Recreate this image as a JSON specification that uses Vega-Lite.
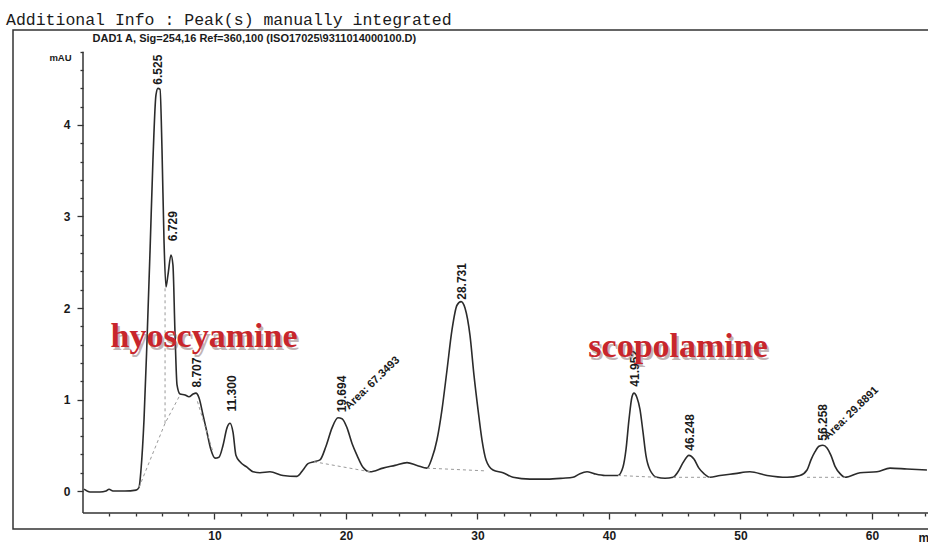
{
  "$schema": "https://vega.github.io/schema/vega-lite/v6.json",
  "width": 920,
  "height": 499,
  "autosize": {"type": "none"},
  "padding": {"left": 13, "top": 30, "right": 0, "bottom": 13},
  "background": "white",
  "title": {
    "text": "Additional Info : Peak(s) manually integrated",
    "anchor": "start",
    "frame": "group",
    "font": "Liberation Mono",
    "fontSize": 16.5,
    "fontWeight": "normal",
    "color": "#1a1a1a",
    "offset": -11,
    "dx": -7,
    "baseline": "alphabetic"
  },
  "config": {
    "view": {"stroke": "#333333", "strokeWidth": 1.5},
    "font": "Liberation Sans",
    "axis": {"domain": false, "grid": false, "tickColor": "#333333", "tickWidth": 1.3, "labelColor": "#1a1a1a", "labelFont": "Liberation Sans", "labelFontWeight": "bold", "labelFontSize": 12, "titleColor": "#1a1a1a", "titleFont": "Liberation Sans"}
  },
  "datasets": {
    "trace": [
      {"t": 0.08, "v": 0.02}, {"t": 0.53, "v": -0.01}, {"t": 1.29, "v": -0.01}, {"t": 1.75, "v": 0.0},
      {"t": 1.98, "v": 0.02}, {"t": 2.28, "v": 0.0}, {"t": 3.19, "v": 0.0}, {"t": 4.03, "v": 0.01},
      {"t": 4.26, "v": 0.04}, {"t": 4.41, "v": 0.23}, {"t": 4.64, "v": 0.78}, {"t": 4.87, "v": 1.65},
      {"t": 5.10, "v": 2.63}, {"t": 5.32, "v": 3.62}, {"t": 5.55, "v": 4.33}, {"t": 5.70, "v": 4.40},
      {"t": 5.86, "v": 4.39}, {"t": 6.01, "v": 3.72}, {"t": 6.16, "v": 2.74}, {"t": 6.31, "v": 2.23},
      {"t": 6.46, "v": 2.36}, {"t": 6.69, "v": 2.58}, {"t": 6.84, "v": 2.47}, {"t": 6.99, "v": 1.76},
      {"t": 7.15, "v": 1.16}, {"t": 7.38, "v": 1.06}, {"t": 7.76, "v": 1.05}, {"t": 8.06, "v": 1.03},
      {"t": 8.37, "v": 1.06}, {"t": 8.59, "v": 1.07}, {"t": 8.82, "v": 1.02}, {"t": 9.13, "v": 0.83},
      {"t": 9.43, "v": 0.64}, {"t": 9.73, "v": 0.45}, {"t": 10.04, "v": 0.36}, {"t": 10.34, "v": 0.37},
      {"t": 10.65, "v": 0.50}, {"t": 10.95, "v": 0.69}, {"t": 11.18, "v": 0.74}, {"t": 11.41, "v": 0.64},
      {"t": 11.63, "v": 0.39}, {"t": 11.94, "v": 0.32}, {"t": 12.47, "v": 0.26}, {"t": 12.93, "v": 0.21},
      {"t": 13.46, "v": 0.20}, {"t": 14.22, "v": 0.21}, {"t": 15.21, "v": 0.17}, {"t": 16.27, "v": 0.16},
      {"t": 16.73, "v": 0.23}, {"t": 17.11, "v": 0.30}, {"t": 17.57, "v": 0.32}, {"t": 18.02, "v": 0.34},
      {"t": 18.48, "v": 0.49}, {"t": 18.94, "v": 0.69}, {"t": 19.39, "v": 0.80}, {"t": 19.70, "v": 0.79},
      {"t": 20.08, "v": 0.69}, {"t": 20.46, "v": 0.52}, {"t": 20.84, "v": 0.39}, {"t": 21.29, "v": 0.26},
      {"t": 21.83, "v": 0.21}, {"t": 22.81, "v": 0.25}, {"t": 23.73, "v": 0.28}, {"t": 24.64, "v": 0.31},
      {"t": 25.40, "v": 0.28}, {"t": 26.16, "v": 0.25}, {"t": 26.54, "v": 0.36}, {"t": 26.92, "v": 0.56},
      {"t": 27.30, "v": 0.89}, {"t": 27.68, "v": 1.32}, {"t": 28.06, "v": 1.76}, {"t": 28.44, "v": 2.03},
      {"t": 28.75, "v": 2.07}, {"t": 29.05, "v": 2.00}, {"t": 29.43, "v": 1.70}, {"t": 29.73, "v": 1.27},
      {"t": 30.04, "v": 0.89}, {"t": 30.34, "v": 0.56}, {"t": 30.65, "v": 0.34}, {"t": 31.18, "v": 0.23},
      {"t": 31.94, "v": 0.20}, {"t": 32.70, "v": 0.15}, {"t": 33.99, "v": 0.13}, {"t": 35.29, "v": 0.13},
      {"t": 36.50, "v": 0.14}, {"t": 37.26, "v": 0.15}, {"t": 37.79, "v": 0.19}, {"t": 38.33, "v": 0.21},
      {"t": 38.86, "v": 0.19}, {"t": 39.70, "v": 0.17}, {"t": 40.68, "v": 0.17}, {"t": 41.06, "v": 0.26},
      {"t": 41.29, "v": 0.45}, {"t": 41.52, "v": 0.78}, {"t": 41.75, "v": 1.03}, {"t": 41.90, "v": 1.07},
      {"t": 42.13, "v": 1.02}, {"t": 42.36, "v": 0.89}, {"t": 42.59, "v": 0.64}, {"t": 42.81, "v": 0.39},
      {"t": 43.12, "v": 0.23}, {"t": 43.65, "v": 0.15}, {"t": 44.26, "v": 0.14}, {"t": 44.87, "v": 0.15},
      {"t": 45.25, "v": 0.21}, {"t": 45.63, "v": 0.31}, {"t": 46.08, "v": 0.39}, {"t": 46.46, "v": 0.35},
      {"t": 46.84, "v": 0.25}, {"t": 47.22, "v": 0.19}, {"t": 47.68, "v": 0.15}, {"t": 48.44, "v": 0.17},
      {"t": 49.58, "v": 0.19}, {"t": 50.72, "v": 0.21}, {"t": 52.02, "v": 0.17}, {"t": 53.54, "v": 0.15},
      {"t": 54.52, "v": 0.17}, {"t": 55.06, "v": 0.23}, {"t": 55.36, "v": 0.34}, {"t": 55.67, "v": 0.43},
      {"t": 55.97, "v": 0.49}, {"t": 56.27, "v": 0.50}, {"t": 56.58, "v": 0.47}, {"t": 56.88, "v": 0.39},
      {"t": 57.19, "v": 0.27}, {"t": 57.57, "v": 0.19}, {"t": 57.95, "v": 0.15}, {"t": 59.09, "v": 0.20},
      {"t": 60.38, "v": 0.21}, {"t": 61.37, "v": 0.25}, {"t": 62.66, "v": 0.24}, {"t": 64.18, "v": 0.23}
    ],
    "baselines": [
      {"seg": "A", "t": 4.26, "v": 0.04}, {"seg": "A", "t": 6.24, "v": 0.74}, {"seg": "A", "t": 7.38, "v": 1.05},
      {"seg": "B", "t": 6.24, "v": 0.74}, {"seg": "B", "t": 6.24, "v": 2.23},
      {"seg": "C", "t": 8.7, "v": 0.98}, {"seg": "C", "t": 9.9, "v": 0.42},
      {"seg": "D", "t": 17.57, "v": 0.32}, {"seg": "D", "t": 21.83, "v": 0.21},
      {"seg": "E", "t": 26.16, "v": 0.25}, {"seg": "E", "t": 30.65, "v": 0.22},
      {"seg": "F", "t": 40.68, "v": 0.17}, {"seg": "F", "t": 43.65, "v": 0.15},
      {"seg": "G", "t": 44.87, "v": 0.15}, {"seg": "G", "t": 47.68, "v": 0.15},
      {"seg": "H", "t": 55.06, "v": 0.15}, {"seg": "H", "t": 57.95, "v": 0.15}
    ],
    "axislines": [
      {"t1": 0, "v1": -0.24, "t2": 0, "v2": 4.8},
      {"t1": 0, "v1": -0.24, "t2": 64.7, "v2": -0.24}
    ],
    "peaks": [
      {"label": "6.525", "t": 5.70, "v": 4.44},
      {"label": "6.729", "t": 6.88, "v": 2.73},
      {"label": "8.707", "t": 8.67, "v": 1.13},
      {"label": "11.300", "t": 11.33, "v": 0.87},
      {"label": "19.694", "t": 19.70, "v": 0.86},
      {"label": "28.731", "t": 28.82, "v": 2.09},
      {"label": "41.952", "t": 41.98, "v": 1.14},
      {"label": "46.248", "t": 46.16, "v": 0.44},
      {"label": "56.258", "t": 56.27, "v": 0.55}
    ],
    "areas": [
      {"label": "Area: 67.3493", "t": 20.23, "v": 0.885},
      {"label": "Area: 29.8891", "t": 56.65, "v": 0.557}
    ],
    "names": [
      {"name": "hyoscyamine", "t": 9.2, "v": 1.57},
      {"name": "scopolamine", "t": 45.25, "v": 1.46}
    ]
  },
  "resolve": {"axis": {"x": "independent", "y": "independent"}},
  "layer": [
    {
      "data": {"name": "trace"},
      "mark": {"type": "line", "color": "#2b2b2b", "strokeWidth": 1.6, "interpolate": "monotone"},
      "encoding": {
        "x": {"field": "t", "type": "quantitative", "scale": {"domain": [-5.323, 64.64], "nice": false, "zero": false},
          "axis": {"orient": "bottom", "offset": -16, "values": [10, 20, 30, 40, 50, 60], "tickSize": 6, "labelPadding": 11, "title": "min", "titleX": 905, "titleY": 24, "titleAlign": "left", "titleBaseline": "middle", "titleFontSize": 12, "titleFontWeight": "bold"}},
        "y": {"field": "v", "type": "quantitative", "scale": {"domain": [-0.415, 5.038], "nice": false, "zero": false},
          "axis": {"orient": "left", "offset": -70, "values": [0, 1, 2, 3, 4], "tickSize": 6, "labelPadding": 7, "title": "mAU", "titleAngle": 0, "titleX": -23, "titleY": 27, "titleAlign": "center", "titleBaseline": "middle", "titleFontSize": 9.5, "titleFontWeight": "bold"}}
      }
    },
    {
      "data": {"name": "baselines"},
      "mark": {"type": "line", "color": "#9a9a9a", "strokeWidth": 1, "strokeDash": [3, 3]},
      "encoding": {
        "detail": {"field": "seg", "type": "nominal"},
        "x": {"field": "t", "type": "quantitative",
          "axis": {"orient": "bottom", "offset": -16, "values": [2, 4, 6, 8, 12, 14, 16, 18, 22, 24, 26, 28, 32, 34, 36, 38, 42, 44, 46, 48, 52, 54, 56, 58, 62, 64], "tickSize": 3, "labels": false, "title": null}},
        "y": {"field": "v", "type": "quantitative",
          "axis": {"orient": "left", "offset": -70, "values": [0.2, 0.4, 0.6, 0.8, 1.2, 1.4, 1.6, 1.8, 2.2, 2.4, 2.6, 2.8, 3.2, 3.4, 3.6, 3.8, 4.2, 4.4, 4.6, 4.8], "tickSize": 3, "labels": false,
            "title": "DAD1 A, Sig=254,16 Ref=360,100 (ISO17025\\9311014000100.D)", "titleAngle": 0, "titleX": 9, "titleY": 8, "titleAlign": "left", "titleBaseline": "middle", "titleFontSize": 11, "titleFontWeight": "bold"}}
      }
    },
    {
      "data": {"name": "axislines"},
      "mark": {"type": "rule", "color": "#333333", "strokeWidth": 1.5},
      "encoding": {
        "x": {"field": "t1", "type": "quantitative", "axis": null},
        "x2": {"field": "t2"},
        "y": {"field": "v1", "type": "quantitative", "axis": null},
        "y2": {"field": "v2"}
      }
    },
    {
      "data": {"name": "peaks"},
      "mark": {"type": "text", "angle": 270, "align": "left", "baseline": "middle", "font": "Liberation Sans", "fontWeight": "bold", "fontSize": 12, "color": "#1a1a1a"},
      "encoding": {
        "x": {"field": "t", "type": "quantitative", "axis": null},
        "y": {"field": "v", "type": "quantitative", "axis": null},
        "text": {"field": "label", "type": "nominal"}
      }
    },
    {
      "data": {"name": "areas"},
      "mark": {"type": "text", "angle": 316, "align": "left", "baseline": "alphabetic", "font": "Liberation Sans", "fontWeight": "bold", "fontSize": 11, "color": "#1a1a1a"},
      "encoding": {
        "x": {"field": "t", "type": "quantitative", "axis": null},
        "y": {"field": "v", "type": "quantitative", "axis": null},
        "text": {"field": "label", "type": "nominal"}
      }
    },
    {
      "data": {"name": "names"},
      "mark": {"type": "text", "align": "center", "baseline": "alphabetic", "font": "Liberation Serif", "fontWeight": "bold", "fontSize": 34, "color": "#7a5a5a", "opacity": 0.45, "dx": 2, "dy": 3},
      "encoding": {
        "x": {"field": "t", "type": "quantitative", "axis": null},
        "y": {"field": "v", "type": "quantitative", "axis": null},
        "text": {"field": "name", "type": "nominal"}
      }
    },
    {
      "data": {"name": "names"},
      "mark": {"type": "text", "align": "center", "baseline": "alphabetic", "font": "Liberation Serif", "fontWeight": "bold", "fontSize": 34, "color": "#c8262c"},
      "encoding": {
        "x": {"field": "t", "type": "quantitative", "axis": null},
        "y": {"field": "v", "type": "quantitative", "axis": null},
        "text": {"field": "name", "type": "nominal"}
      }
    }
  ]
}
